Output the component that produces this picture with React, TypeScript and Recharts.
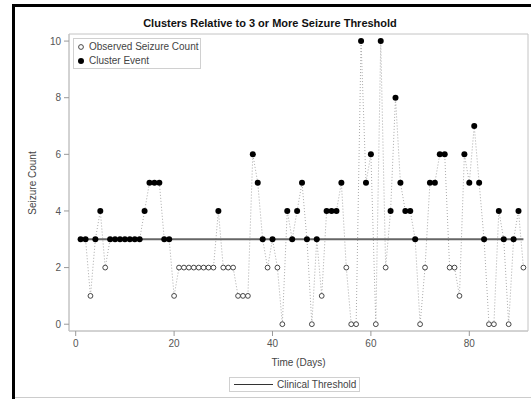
import { ComposedChart, Line, XAxis, YAxis, ReferenceArea } from "recharts";

const days = [
  1, 2, 3, 4, 5, 6, 7, 8, 9, 10, 11, 12, 13, 14, 15, 16, 17, 18, 19, 20,
  21, 22, 23, 24, 25, 26, 27, 28, 29, 30, 31, 32, 33, 34, 35, 36, 37, 38, 39, 40,
  41, 42, 43, 44, 45, 46, 47, 48, 49, 50, 51, 52, 53, 54, 55, 56, 57, 58, 59, 60,
  61, 62, 63, 64, 65, 66, 67, 68, 69, 70, 71, 72, 73, 74, 75, 76, 77, 78, 79, 80,
  81, 82, 83, 84, 85, 86, 87, 88, 89, 90, 91,
];

const seizureCounts = [
  3, 3, 1, 3, 4, 2, 3, 3, 3, 3, 3, 3, 3, 4, 5, 5, 5, 3, 3, 1,
  2, 2, 2, 2, 2, 2, 2, 2, 4, 2, 2, 2, 1, 1, 1, 6, 5, 3, 2, 3,
  2, 0, 4, 3, 4, 5, 3, 0, 3, 1, 4, 4, 4, 5, 2, 0, 0, 10, 5, 6,
  0, 10, 2, 4, 8, 5, 4, 4, 3, 0, 2, 5, 5, 6, 6, 2, 2, 1, 6, 5,
  7, 5, 3, 0, 0, 4, 3, 0, 3, 4, 2,
];

const THRESHOLD = 3;
const xTicks = [0, 20, 40, 60, 80];
const yTicks = [0, 2, 4, 6, 8, 10];
const xDomain: [number, number] = [-1.36, 91.93];
const yDomain: [number, number] = [-0.24, 10.25];

const rows = days.map((day, i) => ({
  day,
  count: seizureCounts[i],
  threshold: THRESHOLD,
}));

const FONT = "'Liberation Sans', Arial, sans-serif";

const renderMarker = (props: any) => {
  const { cx, cy, payload, index } = props;
  if (cx == null || cy == null) return <g key={index} />;
  if (payload.count >= THRESHOLD) {
    return <circle key={index} cx={cx} cy={cy} r={3} fill="#000" />;
  }
  return (
    <circle
      key={index}
      cx={cx}
      cy={cy}
      r={2.4}
      fill="#fff"
      stroke="#333"
      strokeWidth={0.9}
    />
  );
};

const tickStyle = { fontSize: 10, fill: "#555", fontFamily: FONT };

export default function App() {
  return (
    <div
      style={{
        position: "absolute",
        left: 0,
        top: 0,
        width: 531,
        height: 399,
        background: "#fff",
        overflow: "hidden",
        fontFamily: FONT,
      }}
    >
      {/* outer frame */}
      <div style={{ position: "absolute", left: 12, top: 4, width: 3, height: 395, background: "#000" }} />
      <div style={{ position: "absolute", left: 12, top: 4, width: 519, height: 3, background: "#000" }} />
      <div style={{ position: "absolute", left: 15, top: 397, width: 516, height: 1, background: "#ccc" }} />

      <div
        style={{
          position: "absolute",
          left: 15,
          top: 16,
          width: 510,
          textAlign: "center",
          fontSize: 11,
          fontWeight: "bold",
          color: "#111",
          lineHeight: "14px",
        }}
      >
        Clusters Relative to 3 or More Seizure Threshold
      </div>

      <div style={{ position: "absolute", left: 0, top: 0 }}>
        <ComposedChart
          width={531}
          height={399}
          data={rows}
          margin={{ top: 34, right: 3, bottom: 38, left: 0 }}
        >
          <ReferenceArea
            x1={xDomain[0]}
            x2={xDomain[1]}
            y1={yDomain[0]}
            y2={yDomain[1]}
            fill="none"
            stroke="#c4c4c4"
            strokeWidth={1}
          />
          <XAxis
            dataKey="day"
            type="number"
            domain={xDomain}
            ticks={xTicks}
            allowDataOverflow
            height={30}
            tickSize={5}
            tickMargin={4}
            axisLine={{ stroke: "#c4c4c4" }}
            tickLine={{ stroke: "#999" }}
            tick={tickStyle}
          />
          <YAxis
            type="number"
            domain={yDomain}
            ticks={yTicks}
            allowDataOverflow
            width={69}
            tickSize={5}
            tickMargin={3}
            axisLine={{ stroke: "#c4c4c4" }}
            tickLine={{ stroke: "#999" }}
            tick={tickStyle}
          />
          <Line
            dataKey="count"
            type="linear"
            stroke="#aaa"
            strokeWidth={1}
            strokeDasharray="1 2"
            dot={false}
            activeDot={false}
            isAnimationActive={false}
          />
          <Line
            dataKey="threshold"
            type="linear"
            stroke="#666"
            strokeWidth={2}
            dot={false}
            activeDot={false}
            isAnimationActive={false}
          />
          <Line
            dataKey="count"
            type="linear"
            stroke="none"
            dot={renderMarker}
            activeDot={false}
            isAnimationActive={false}
          />
        </ComposedChart>
      </div>

      {/* y axis title */}
      <div
        style={{
          position: "absolute",
          left: 32,
          top: 183,
          transform: "translate(-50%, -50%) rotate(-90deg)",
          fontSize: 10,
          color: "#444",
          whiteSpace: "nowrap",
        }}
      >
        Seizure Count
      </div>

      {/* x axis title */}
      <div
        style={{
          position: "absolute",
          left: 69,
          top: 356,
          width: 459,
          textAlign: "center",
          fontSize: 10,
          color: "#444",
          lineHeight: "13px",
        }}
      >
        Time (Days)
      </div>

      {/* top-left legend */}
      <div
        style={{
          position: "absolute",
          left: 73,
          top: 38,
          width: 126,
          height: 29,
          border: "1px solid #d0d0d0",
          background: "#fff",
          fontSize: 10,
          color: "#444",
        }}
      >
        <svg style={{ position: "absolute", left: 3, top: 3 }} width={10} height={24}>
          <circle cx={4} cy={5} r={2.4} fill="#fff" stroke="#333" strokeWidth={0.9} />
          <circle cx={4} cy={19} r={3} fill="#000" />
        </svg>
        <div style={{ position: "absolute", left: 15, top: 2, lineHeight: "12px", whiteSpace: "nowrap" }}>
          Observed Seizure Count
        </div>
        <div style={{ position: "absolute", left: 15, top: 16, lineHeight: "12px", whiteSpace: "nowrap" }}>
          Cluster Event
        </div>
      </div>

      {/* bottom legend */}
      <div
        style={{
          position: "absolute",
          left: 229,
          top: 377,
          width: 129,
          height: 13,
          border: "1px solid #d0d0d0",
          fontSize: 10,
          color: "#444",
        }}
      >
        <div style={{ position: "absolute", left: 4, top: 6, width: 39, height: 1, background: "#333" }} />
        <div style={{ position: "absolute", left: 47, top: 0, lineHeight: "13px", whiteSpace: "nowrap" }}>
          Clinical Threshold
        </div>
      </div>
    </div>
  );
}
